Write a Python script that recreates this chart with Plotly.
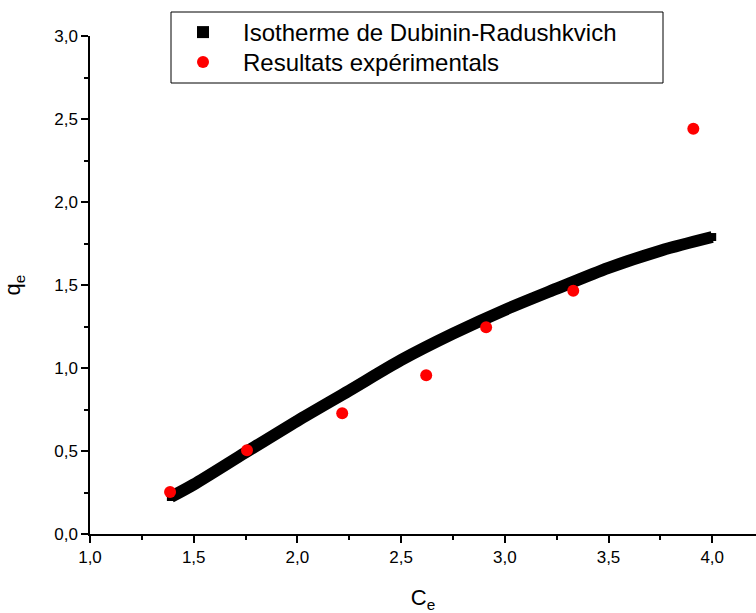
import plotly.graph_objects as go

# Dubinin-Radushkevich fitted curve
curve_x = [1.39, 1.5, 1.75, 2.0, 2.25, 2.5, 2.75, 3.0, 3.25, 3.5, 3.75, 4.0]
curve_y = [0.223, 0.298, 0.491, 0.682, 0.864, 1.048, 1.207, 1.35, 1.478, 1.603, 1.707, 1.789]

# Experimental results
exp_x = [1.386, 1.757, 2.216, 2.621, 2.910, 3.330, 3.909]
exp_y = [0.253, 0.505, 0.728, 0.956, 1.245, 1.466, 2.441]

name_curve = "Isotherme de Dubinin-Radushkvich"
name_exp = "Resultats expérimentals"

FONT = "Arial, Liberation Sans, sans-serif"

fig = go.Figure()
fig.add_trace(go.Scatter(x=curve_x, y=curve_y, mode="lines",
                         line=dict(color="black", width=12, shape="spline", smoothing=0.8),
                         showlegend=False, hoverinfo="skip"))
fig.add_trace(go.Scatter(x=curve_x, y=curve_y, mode="markers", name=name_curve,
                         marker=dict(symbol="square", color="black", size=8),
                         legend="legend"))
fig.add_trace(go.Scatter(x=exp_x, y=exp_y, mode="markers", name=name_exp,
                         marker=dict(symbol="circle", color="red", size=12),
                         legend="legend2"))

W, H = 756, 613
L, R, T, B = 90, 0, 36, 79
pw, ph = W - L - R, H - T - B

def px2paper(px, py):
    return (px - L) / pw, (H - B - py) / ph

x0, y1 = px2paper(171, 12)
x1, y0 = px2paper(663, 83)
lx, ly1 = px2paper(163, 10)
_, ly2 = px2paper(163, 40)

leg_common = dict(xanchor="left", yanchor="top",
                  bgcolor="rgba(0,0,0,0)", borderwidth=0,
                  font=dict(family=FONT, size=24, color="black"),
                  itemwidth=70, itemsizing="constant", tracegroupgap=0)

fig.update_layout(
    width=W, height=H,
    margin=dict(l=L, r=R, t=T, b=B, pad=0),
    plot_bgcolor="white", paper_bgcolor="white",
    separators=", ",
    font=dict(family=FONT, size=16, color="black"),
    showlegend=True,
    legend=dict(x=lx, y=ly1, **leg_common),
    legend2=dict(x=lx, y=ly2, **leg_common),
    shapes=[dict(type="rect", xref="paper", yref="paper",
                 x0=x0, x1=x1, y0=y0, y1=y1,
                 line=dict(color="black", width=1), fillcolor="rgba(0,0,0,0)")],
    xaxis=dict(range=[1.0, 1.0 + pw / 207.4], showline=True, linecolor="black", linewidth=1.5,
               ticks="outside", tickcolor="black", ticklen=7, tickwidth=1.5,
               tick0=1.0, dtick=0.5, tickformat=".1f", showgrid=False, zeroline=False,
               minor=dict(ticks="outside", ticklen=4, tickwidth=1.5, tickcolor="black", dtick=0.25),
               tickfont=dict(family=FONT, size=17),
               title=dict(text="C<sub>e</sub>", font=dict(family=FONT, size=22), standoff=24)),
    yaxis=dict(range=[0, 3.0], showline=True, linecolor="black", linewidth=1.5,
               ticks="outside", tickcolor="black", ticklen=7, tickwidth=1.5,
               tick0=0, dtick=0.5, tickformat=".1f", showgrid=False, zeroline=False,
               minor=dict(ticks="outside", ticklen=4, tickwidth=1.5, tickcolor="black", dtick=0.25),
               tickfont=dict(family=FONT, size=17),
               title=dict(text="q<sub>e</sub>", font=dict(family=FONT, size=22), standoff=28)),
)

fig.write_html("out.html")
